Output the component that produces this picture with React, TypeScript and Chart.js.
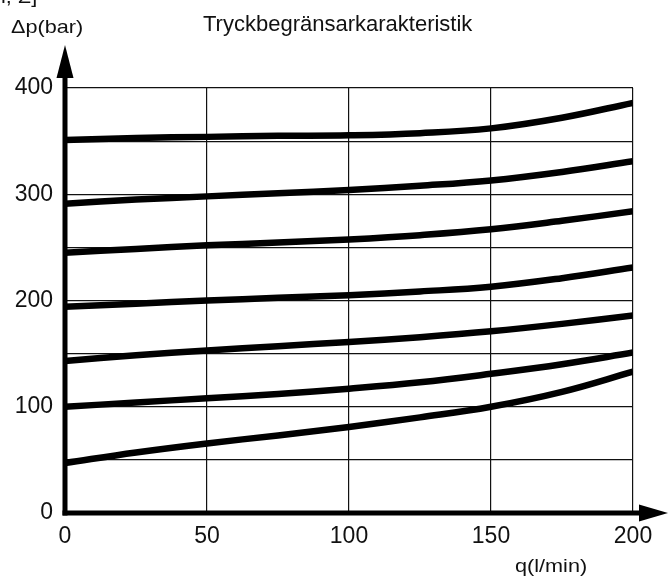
import React, { useEffect, useRef } from "react";
import { Chart, registerables } from "chart.js";

Chart.register(...registerables);

const flowQ = [0, 25, 50, 75, 100, 125, 150, 175, 200];
const curve1 = [351, 353, 354, 355, 355.5, 357.5, 362, 372, 386];
const curve2 = [291, 295, 298, 301, 304, 308, 313, 321, 331];
const curve3 = [245, 248.5, 252, 254.5, 257.5, 261.5, 267, 275, 284];
const curve4 = [194, 197, 200, 202.5, 205, 208.5, 213, 221, 231];
const curve5 = [143, 148.5, 153, 157, 161, 165.5, 171, 178, 186];
const curve6 = [100, 104, 108, 112, 117, 123, 131, 140, 151];
const curve7 = [47, 57, 65.5, 73, 81, 90, 100, 114, 133];
const curves = [curve1, curve2, curve3, curve4, curve5, curve6, curve7];

const xTicks = [0, 50, 100, 150, 200];
const yLabelTicks = [0, 100, 200, 300, 400];

const titleText = "Tryckbegränsarkarakteristik";
const yTitle = "Δp(bar)";
const xTitle = "q(l/min)";
const topFragment = "l, Σ]";

const FONT = "'Liberation Sans', Arial, Helvetica, sans-serif";

function wideText(ctx: CanvasRenderingContext2D, text: string, x: number, y: number, size: number, sx: number) {
  ctx.save();
  ctx.translate(x, y);
  ctx.scale(sx, 1);
  ctx.font = `${size}px ${FONT}`;
  ctx.textBaseline = "alphabetic";
  ctx.textAlign = "left";
  ctx.fillText(text, 0, 0);
  ctx.restore();
}

const decorPlugin = {
  id: "decor",
  afterDraw(chart: any) {
    const ctx = chart.ctx as CanvasRenderingContext2D;
    const xs = chart.scales.x;
    const ys = chart.scales.y;
    const x0 = xs.getPixelForValue(0);
    const y0 = ys.getPixelForValue(0);
    const yTop = ys.getPixelForValue(400);
    ctx.save();
    ctx.fillStyle = "#000";
    ctx.strokeStyle = "#000";
    ctx.lineWidth = 5;
    // y axis line and arrow
    ctx.beginPath();
    ctx.moveTo(x0, y0 + 2.5);
    ctx.lineTo(x0, yTop - 15);
    ctx.stroke();
    ctx.beginPath();
    ctx.moveTo(x0, yTop - 43);
    ctx.lineTo(x0 - 8.5, yTop - 10);
    ctx.lineTo(x0 + 8.5, yTop - 10);
    ctx.closePath();
    ctx.fill();
    // x axis line and arrow
    const xEnd = xs.getPixelForValue(200);
    ctx.beginPath();
    ctx.moveTo(x0 - 2.5, y0);
    ctx.lineTo(xEnd + 15, y0);
    ctx.stroke();
    ctx.beginPath();
    ctx.moveTo(xEnd + 35, y0);
    ctx.lineTo(xEnd + 6, y0 - 8.5);
    ctx.lineTo(xEnd + 6, y0 + 8.5);
    ctx.closePath();
    ctx.fill();
    // texts
    ctx.fillStyle = "#111";
    wideText(ctx, yTitle, 11, 33, 18.5, 1.17);
    wideText(ctx, xTitle, 515, 572, 18.5, 1.17);
    wideText(ctx, topFragment, 1, 3, 18.5, 1.17);
    ctx.font = `22px ${FONT}`;
    ctx.textBaseline = "alphabetic";
    ctx.textAlign = "left";
    ctx.fillText(titleText, 203, 31);
    ctx.restore();
  },
};

export default function App() {
  const canvasRef = useRef<HTMLCanvasElement | null>(null);

  useEffect(() => {
    if (!canvasRef.current) return;
    const chart = new Chart(canvasRef.current, {
      type: "line",
      data: {
        datasets: curves.map((c, i) => ({
          label: "curve" + (i + 1),
          data: flowQ.map((q, j) => ({ x: q, y: c[j] })),
          borderColor: "#000",
          borderWidth: 6.5,
          pointRadius: 0,
          fill: false,
          tension: 0.4,
        })),
      },
      options: {
        animation: false,
        responsive: false,
        maintainAspectRatio: false,
        layout: { padding: { top: 88, right: 37, bottom: 0, left: 0 } },
        plugins: { legend: { display: false }, tooltip: { enabled: false }, title: { display: false } },
        scales: {
          x: {
            type: "linear",
            min: 0,
            max: 200,
            afterFit: (s: any) => {
              s.height = 64;
            },
            afterBuildTicks: (s: any) => {
              s.ticks = xTicks.map((v) => ({ value: v }));
            },
            grid: { color: "#111", lineWidth: 1.2, drawTicks: false },
            border: { display: false },
            ticks: {
              padding: 10,
              color: "#111",
              font: { family: FONT, size: 23 },
              maxRotation: 0,
            },
          },
          y: {
            type: "linear",
            min: 0,
            max: 400,
            afterFit: (s: any) => {
              s.width = 65;
            },
            afterBuildTicks: (s: any) => {
              const t: any[] = [];
              for (let v = 0; v <= 400; v += 50) t.push({ value: v });
              s.ticks = t;
            },
            grid: { color: "#111", lineWidth: 1.2, drawTicks: false },
            border: { display: false },
            ticks: {
              padding: 12,
              color: "#111",
              font: { family: FONT, size: 23 },
              callback: (v: any) => (yLabelTicks.includes(Number(v)) ? String(v) : ""),
            },
          },
        },
      },
      plugins: [decorPlugin],
    });
    return () => chart.destroy();
  }, []);

  return (
    <div style={{ position: "fixed", left: 0, top: 0, width: 670, height: 577, background: "#fff" }}>
      <canvas ref={canvasRef} width={670} height={577} style={{ width: 670, height: 577, display: "block" }} />
    </div>
  );
}
